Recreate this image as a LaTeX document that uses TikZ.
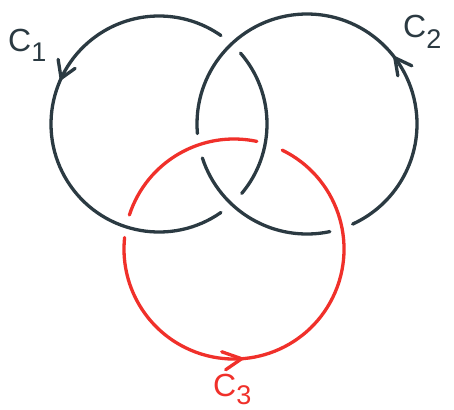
\documentclass[tikz,border=0pt]{standalone}
\usepackage{fontspec}
\setmainfont{Liberation Sans}
\usetikzlibrary{calc}
\definecolor{ink}{HTML}{2B3A42}
\definecolor{redink}{HTML}{F0302A}
\newcommand\ringlabel[2]{{\fontsize{32}{32}\selectfont C}\kern0pt\raisebox{-#2pt}{\fontsize{27}{27}\selectfont #1}}
\begin{document}
\begin{tikzpicture}[x=1pt,y=-1pt,
  ring/.style={line width=3.3pt,line cap=round,line join=round},
  dark/.style={ring,draw=ink},
  red/.style={ring,draw=redink},
  lbl/.style={anchor=base west,inner sep=0pt}]
\useasboundingbox (0,0) rectangle (454,409);
\coordinate (c1) at (159,124);
\coordinate (c2) at (307,124);
\coordinate (c3) at (234,249);
% C1
\draw[dark] (c1) ++(-41:108) arc (-41:40:108);
\draw[dark] (c1) ++(55:108) arc (55:305:108);
\coordinate (t1) at ($(c1)+(205:108)$);
\draw[dark] ($(t1)+(-3,-19)$) -- (t1) -- ($(t1)+(14,-10)$);
% C2
\draw[dark] (c2) ++(78:110) arc (78:162:110);
\draw[dark] (c2) ++(175:110) arc (175:425.5:110);
\coordinate (t2) at ($(c2)+(-37:110)$);
\draw[dark] ($(t2)+(3,18)$) -- (t2) -- ($(t2)+(17,8)$);
% C3
\draw[red] (c3) ++(-162:110) arc (-162:-78:110);
\draw[red] (c3) ++(-64:110) arc (-64:186:110);
\coordinate (t3) at ($(c3)+(86:110)$);
\draw[red] ($(t3)+(-20,-7)$) -- (t3) -- ($(t3)+(-16,11)$);
% labels
\node[lbl,text=ink] (l1) at (8,52) {\ringlabel{1}{10}};
\node[lbl,text=ink] (l2) at (403,38) {\ringlabel{2}{11}};
\node[lbl,text=redink] (l3) at (213,396) {\ringlabel{3}{8}};
\end{tikzpicture}
\end{document}
